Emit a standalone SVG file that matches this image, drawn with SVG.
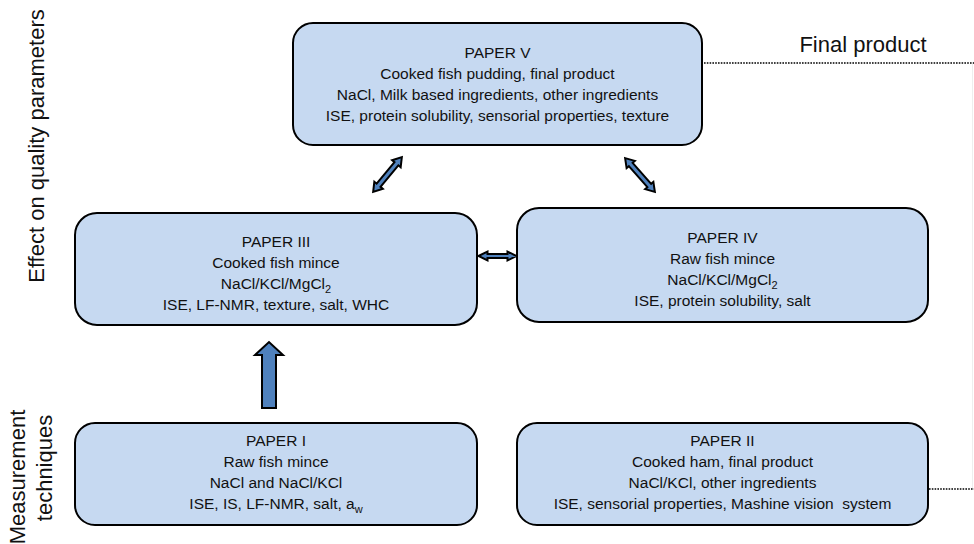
<svg xmlns="http://www.w3.org/2000/svg" width="974" height="544" viewBox="0 0 974 544">
<style>
.box{fill:#c6d9f1;stroke:#000;stroke-width:2}
.t{font-family:"Liberation Sans",Arial,sans-serif;font-size:15.5px;fill:#111;text-anchor:middle}
.lab{font-family:"Liberation Sans",Arial,sans-serif;font-size:22px;fill:#111;text-anchor:middle}
.arr{fill:#4f81bd;stroke:#000;stroke-width:2;stroke-linejoin:miter}
.dot{fill:none;stroke:#000;stroke-width:1.6;stroke-dasharray:1.6 1.2}
</style>
<rect width="974" height="544" fill="#fff"/>
<g id="labels">
<text class="lab" transform="translate(44,146) rotate(-90)">Effect on quality parameters</text>
<text class="lab" transform="translate(25,477) rotate(-90)">Measurement</text>
<text class="lab" transform="translate(52,468) rotate(-90)">techniques</text>
<text class="lab" x="863" y="52">Final product</text>
</g>
<g id="connectors">
<line class="dot" x1="704" y1="63" x2="974" y2="63"/>
<line class="dot" x1="929" y1="489" x2="974" y2="489"/>
<line x1="972.5" y1="64" x2="972.5" y2="488" stroke="#eeeeee" stroke-width="1"/>
<path class="arr" d="M262,408 L262,355 L255,355 L269,342 L283,355 L276,355 L276,408 Z"/>
<path class="arr" transform="translate(497.5,256)" d="M-19,0 L-10,-4.5 L-10,-2 L10,-2 L10,-4.5 L19,0 L10,4.5 L10,2 L-10,2 L-10,4.5 Z"/>
<path class="arr" transform="translate(387.5,174.5) rotate(-50.4)" d="M-22.5,0 L-14,-5.5 L-14,-2.5 L14,-2.5 L14,-5.5 L22.5,0 L14,5.5 L14,2.5 L-14,2.5 L-14,5.5 Z"/>
<path class="arr" transform="translate(640,175) rotate(48.6)" d="M-22.5,0 L-14,-5.5 L-14,-2.5 L14,-2.5 L14,-5.5 L22.5,0 L14,5.5 L14,2.5 L-14,2.5 L-14,5.5 Z"/>
</g>
<g id="paper5">
<rect class="box" x="293" y="23" width="409" height="122" rx="20"/>
<text class="t" x="497.5" y="58">PAPER V</text>
<text class="t" x="497.5" y="79">Cooked fish pudding, final product</text>
<text class="t" x="497.5" y="100">NaCl, Milk based ingredients, other ingredients</text>
<text class="t" x="497.5" y="121">ISE, protein solubility, sensorial properties, texture</text>
</g>
<g id="paper3">
<rect class="box" x="75" y="213" width="402" height="112" rx="22"/>
<text class="t" x="276" y="247">PAPER III</text>
<text class="t" x="276" y="268">Cooked fish mince</text>
<text class="t" x="276" y="289">NaCl/KCl/MgCl<tspan font-size="11" dy="4">2</tspan></text>
<text class="t" x="276" y="310">ISE, LF-NMR, texture, salt, WHC</text>
</g>
<g id="paper4">
<rect class="box" x="517" y="208" width="411" height="114" rx="22"/>
<text class="t" x="722.5" y="243">PAPER IV</text>
<text class="t" x="722.5" y="264">Raw fish mince</text>
<text class="t" x="722.5" y="285">NaCl/KCl/MgCl<tspan font-size="11" dy="4">2</tspan></text>
<text class="t" x="722.5" y="306">ISE, protein solubility, salt</text>
</g>
<g id="paper1">
<rect class="box" x="75" y="423" width="402" height="102" rx="20"/>
<text class="t" x="276" y="446">PAPER I</text>
<text class="t" x="276" y="467">Raw fish mince</text>
<text class="t" x="276" y="488">NaCl and NaCl/KCl</text>
<text class="t" x="276" y="509">ISE, IS, LF-NMR, salt, a<tspan font-size="11" dy="4">w</tspan></text>
</g>
<g id="paper2">
<rect class="box" x="517" y="423" width="411" height="102" rx="20"/>
<text class="t" x="722.5" y="446">PAPER II</text>
<text class="t" x="722.5" y="467">Cooked ham, final product</text>
<text class="t" x="722.5" y="488">NaCl/KCl, other ingredients</text>
<text class="t" x="722.5" y="509" xml:space="preserve">ISE, sensorial properties, Mashine vision  system</text>
</g>
</svg>
